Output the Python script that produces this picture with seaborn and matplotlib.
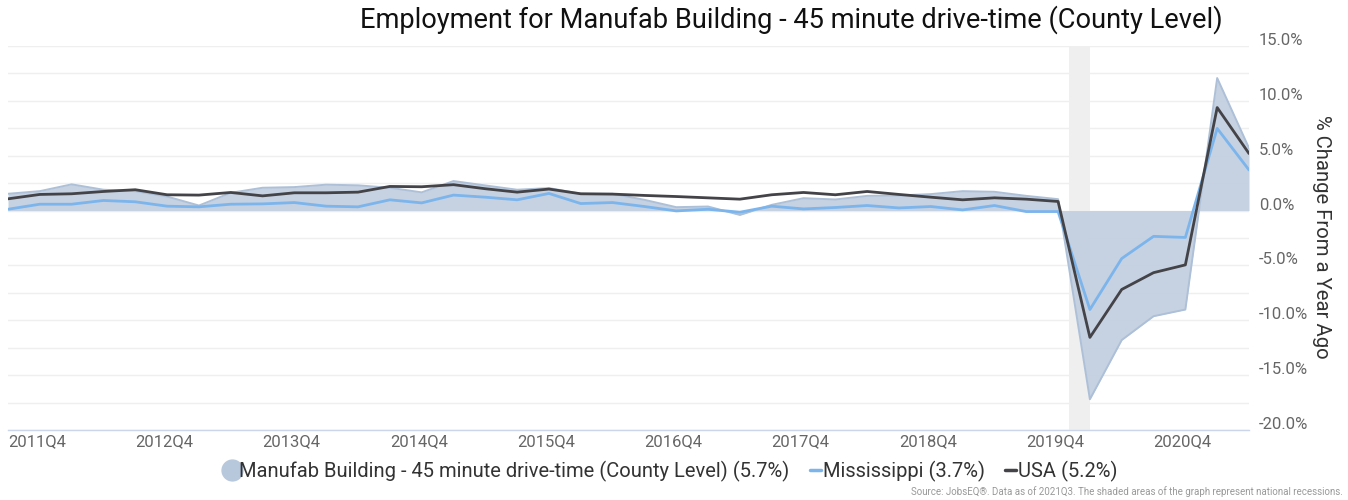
import numpy as np
import pandas as pd
import matplotlib
matplotlib.use('Agg')
import matplotlib.pyplot as plt
import seaborn as sns
from matplotlib.lines import Line2D
from matplotlib.ticker import MultipleLocator, FuncFormatter
from matplotlib.transforms import ScaledTranslation

# quarters 2011Q4 .. 2021Q3
quarters = [str(p) for p in pd.period_range('2011Q4', '2021Q3', freq='Q')]

manufab = [1.53, 1.77, 2.39, 1.90, 1.77, 1.28, 0.46, 1.62, 2.08, 2.14,
           2.36, 2.30, 2.08, 1.66, 2.69, 2.29, 1.90, 2.05, 1.53, 1.53,
           0.98, 0.31, 0.37, -0.40, 0.52, 1.13, 1.01, 1.34, 1.38, 1.50,
           1.77, 1.71, 1.34, 1.04, -17.2, -11.8, -9.63, -9.02, 12.08, 5.7]
mississippi = [0.12, 0.58, 0.58, 0.92, 0.80, 0.40, 0.34, 0.58, 0.61, 0.73,
               0.40, 0.34, 0.98, 0.70, 1.41, 1.22, 0.98, 1.56, 0.64, 0.73,
               0.37, -0.03, 0.12, -0.15, 0.40, 0.15, 0.28, 0.46, 0.24, 0.37,
               0.06, 0.46, -0.09, -0.09, -9.02, -4.37, -2.35, -2.45, 7.49, 3.7]
usa = [1.07, 1.47, 1.53, 1.74, 1.90, 1.44, 1.41, 1.65, 1.34, 1.62,
       1.62, 1.68, 2.20, 2.17, 2.36, 1.99, 1.68, 1.96, 1.53, 1.50,
       1.38, 1.28, 1.16, 1.04, 1.44, 1.65, 1.44, 1.74, 1.47, 1.22,
       0.98, 1.16, 1.04, 0.83, -11.56, -7.19, -5.66, -4.95, 9.39, 5.2]

# recession (2020Q1 partial - 2020Q2), in quarter index units
recession_start = 33.33
recession_end = 34.0

df = pd.DataFrame({'q': np.arange(len(quarters)), 'quarter': quarters,
                   'manufab': manufab, 'mississippi': mississippi, 'usa': usa})

sns.set_style('white')
plt.rcParams['font.family'] = ['Roboto', 'DejaVu Sans']

fig = plt.figure(figsize=(13.48, 5), dpi=100)
ax = fig.add_axes([8 / 1348, 70 / 500, 1241 / 1348, 384 / 500])

ax.axvspan(recession_start, recession_end, color='#efefef', zorder=0, lw=0)

area_col = '#c3d0e1'
ax.fill_between(df['q'], 0, df['manufab'], color=area_col, alpha=0.95, lw=0, zorder=2)
ax.plot(df['q'], df['manufab'], color='#adc0d8', lw=1.4, zorder=2)

sns.lineplot(data=df, x='q', y='mississippi', color='#7cb5ec', lw=2, ax=ax, zorder=3)
sns.lineplot(data=df, x='q', y='usa', color='#434348', lw=2, ax=ax, zorder=4)

ax.set_xlim(0, len(quarters) - 1)
ax.set_ylim(-20, 15)
ax.set_xlabel('')
ax.set_ylabel('')

# y axis on the right, gridlines every 2.5
ax.yaxis.tick_right()
ax.yaxis.set_major_locator(MultipleLocator(5))
ax.yaxis.set_minor_locator(MultipleLocator(2.5))
ax.yaxis.set_major_formatter(FuncFormatter(lambda v, p: f'{v:.1f}%'))
ax.grid(axis='y', which='both', color='#efefef', lw=1)
ax.tick_params(axis='y', which='both', length=0, pad=7, labelsize=12, labelcolor='#666666')
for lab in ax.get_yticklabels():
    lab.set_transform(lab.get_transform() + ScaledTranslation(0, 5 / 72, fig.dpi_scale_trans))

ax.set_xticks(df['q'][::4])
ax.set_xticklabels(df['quarter'][::4], ha='left')
ax.tick_params(axis='x', length=5, width=1, color='#ccd6eb', pad=-2, labelsize=12, labelcolor='#666666')

for s in ['top', 'left', 'right']:
    ax.spines[s].set_visible(False)
ax.spines['bottom'].set_color('#ccd6eb')
ax.spines['bottom'].set_linewidth(1)

fig.text(791 / 1348, 1 - 20 / 500, 'Employment for Manufab Building - 45 minute drive-time (County Level)',
         ha='center', va='center', fontsize=19.6, color='#111111')
fig.text(1322 / 1348, 1 - 237 / 500, '% Change From a Year Ago', rotation=270,
         ha='center', va='center', fontsize=14.6, color='#333333')

handles = [
    Line2D([], [], marker='o', ls='', markersize=15, markerfacecolor='#b7c8dd', markeredgecolor='#b7c8dd'),
    Line2D([], [], color='#7cb5ec', lw=2.5),
    Line2D([], [], color='#434348', lw=2.5),
]
labels = ['Manufab Building - 45 minute drive-time (County Level) (5.7%)',
          'Mississippi (3.7%)', 'USA (5.2%)']
fig.legend(handles, labels, loc='center', bbox_to_anchor=(0.4985, 1 - 471 / 500), ncol=3,
           frameon=False, fontsize=14.5, handlelength=0.55, handletextpad=0.1, columnspacing=1.0,
           labelcolor='#333333')

fig.text(1343 / 1348, 1 - 492 / 500,
         'Source: JobsEQ®. Data as of 2021Q3. The shaded areas of the graph represent national recessions.',
         ha='right', va='center', fontsize=7, color='#999999')

fig.savefig('out.png', dpi=100)
